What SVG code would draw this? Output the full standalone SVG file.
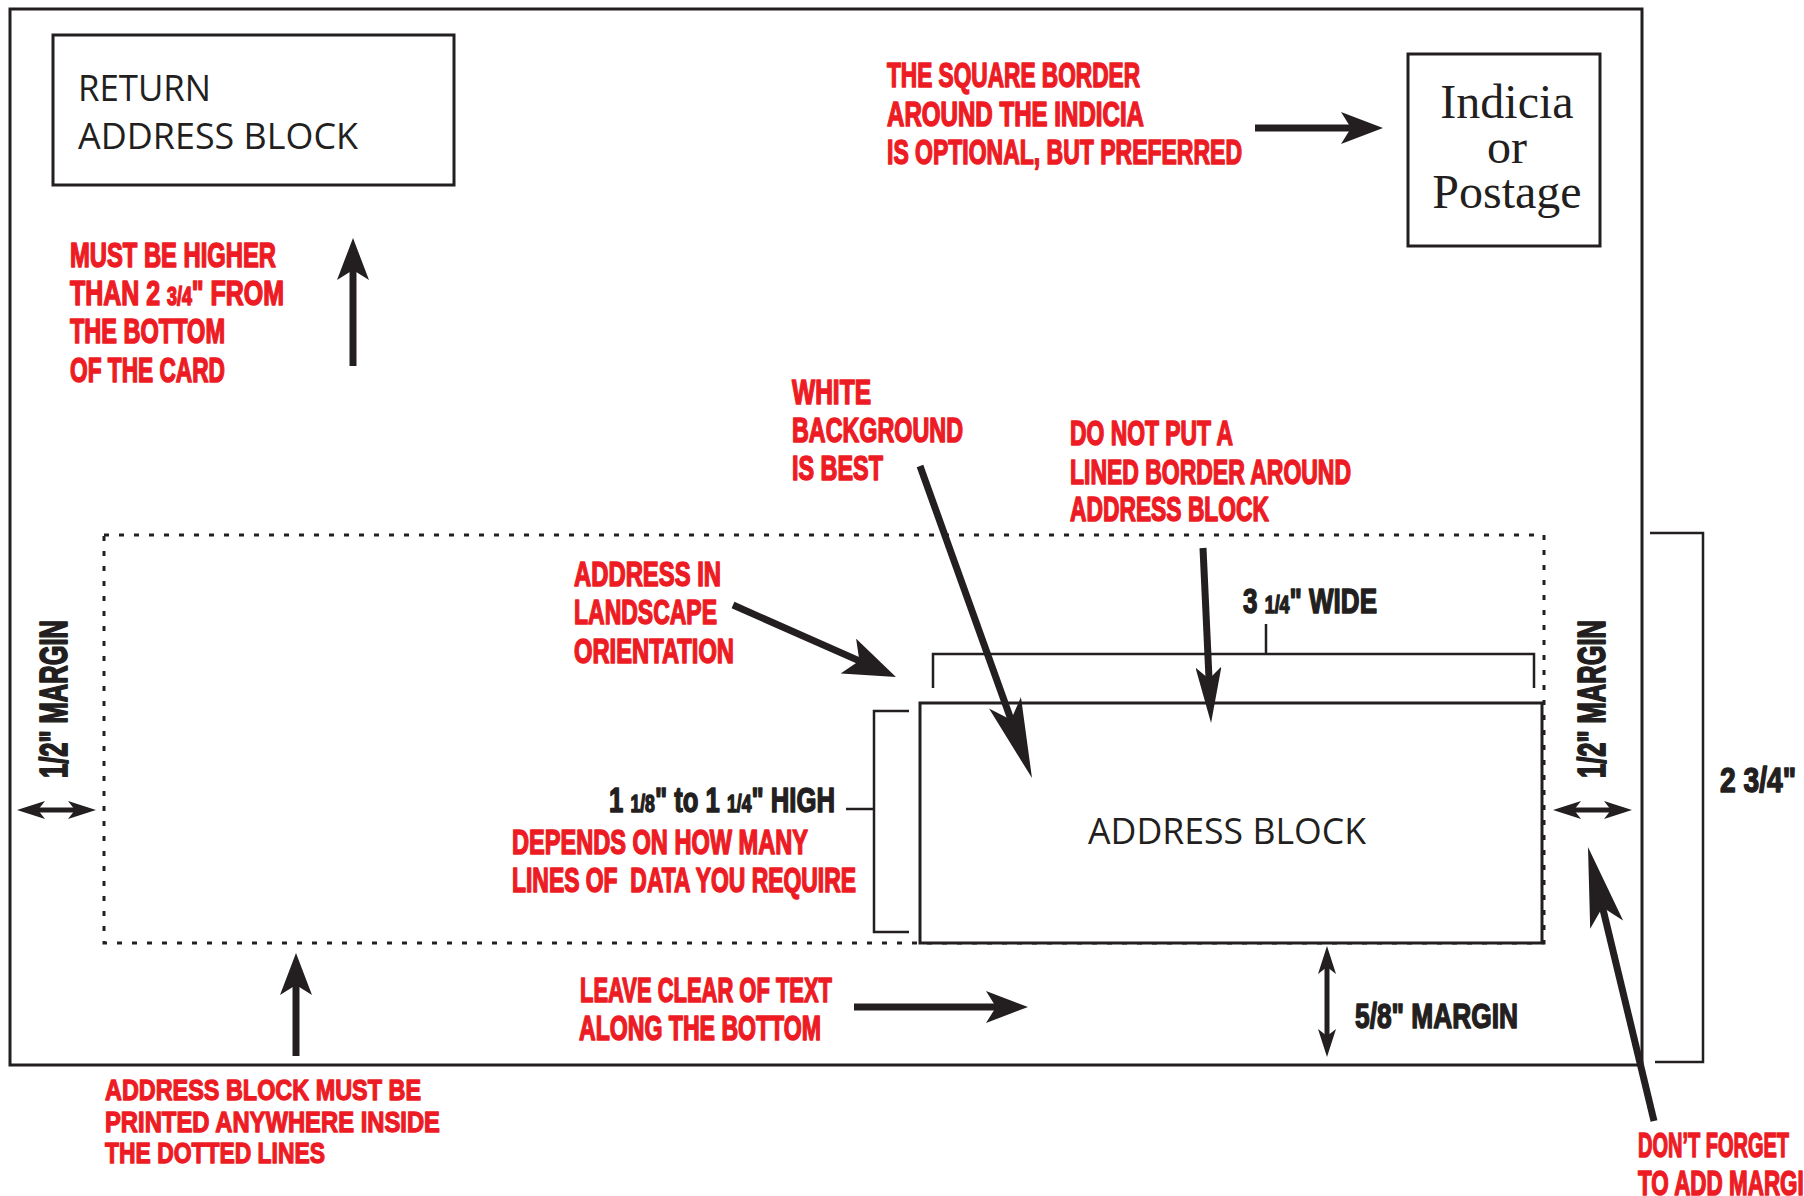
<svg xmlns="http://www.w3.org/2000/svg" width="1804" height="1196" viewBox="0 0 1804 1196">
<style>
.red{font-family:"Liberation Sans",Arial,sans-serif;font-weight:bold;fill:#ed1c24;stroke:#ed1c24;stroke-width:1.6;stroke-linejoin:round;font-size:35px}
.reds{font-size:29px;stroke-width:1.3}
.blk{font-family:"Liberation Sans",Arial,sans-serif;font-weight:bold;fill:#231f20;stroke:#231f20;stroke-width:1.5;stroke-linejoin:round;font-size:35px}
.rot{font-size:38px;stroke-width:1.8}
.plain{font-family:"Open Sans","Liberation Sans",sans-serif;fill:#231f20;font-size:37px}
.serif{font-family:"Liberation Serif","Times New Roman",serif;fill:#231f20;font-size:48px;text-anchor:middle}
.box{fill:#fff;stroke:#231f20;stroke-width:3}
.line{fill:none;stroke:#231f20;stroke-width:2.5}
.dot{fill:none;stroke:#231f20;stroke-width:3;stroke-dasharray:5 10}
.arr{fill:none;stroke:#231f20;stroke-width:7}
.arrs{fill:none;stroke:#231f20;stroke-width:5}
</style>
<defs>
<marker id="ah" viewBox="0 0 42 32" refX="16" refY="16" markerWidth="42" markerHeight="32" markerUnits="userSpaceOnUse" orient="auto"><path d="M0,0 L42,16 L0,32 L10,16 Z" fill="#231f20"/></marker>
<marker id="ahL" viewBox="0 0 80 34" refX="30" refY="17" markerWidth="80" markerHeight="34" markerUnits="userSpaceOnUse" orient="auto"><path d="M0,0 L80,17 L0,34 L18,17 Z" fill="#231f20"/></marker>
<marker id="ahM" viewBox="0 0 56 26" refX="20" refY="13" markerWidth="56" markerHeight="26" markerUnits="userSpaceOnUse" orient="auto"><path d="M0,0 L56,13 L0,26 L12,13 Z" fill="#231f20"/></marker>
<marker id="ahW" viewBox="0 0 52 38" refX="20" refY="19" markerWidth="52" markerHeight="38" markerUnits="userSpaceOnUse" orient="auto"><path d="M0,0 L52,19 L0,38 L12,19 Z" fill="#231f20"/></marker>
<marker id="ahS" viewBox="0 0 28 18" refX="10" refY="9" markerWidth="28" markerHeight="18" markerUnits="userSpaceOnUse" orient="auto-start-reverse"><path d="M0,0 L28,9 L0,18 L7,9 Z" fill="#231f20"/></marker>
</defs>
<rect width="1804" height="1196" fill="#fff"/>

<g id="card"><rect x="10" y="9" width="1632" height="1056" fill="none" stroke="#231f20" stroke-width="3"/></g>

<g id="return-address">
<rect class="box" x="53" y="35" width="401" height="150"/>
<text class="plain" x="78" y="101" textLength="133" lengthAdjust="spacingAndGlyphs">RETURN</text>
<text class="plain" x="78" y="149" textLength="280" lengthAdjust="spacingAndGlyphs">ADDRESS BLOCK</text>
</g>

<g id="indicia">
<rect class="box" x="1408" y="54" width="192" height="192"/>
<text class="serif" x="1507" y="118">Indicia</text>
<text class="serif" x="1507" y="163">or</text>
<text class="serif" x="1507" y="208">Postage</text>
</g>

<g id="note-square-border">
<text class="red" x="887" y="87" textLength="253" lengthAdjust="spacingAndGlyphs">THE SQUARE BORDER</text>
<text class="red" x="887" y="126" textLength="257" lengthAdjust="spacingAndGlyphs">AROUND THE INDICIA</text>
<text class="red" x="887" y="164" textLength="355" lengthAdjust="spacingAndGlyphs">IS OPTIONAL, BUT PREFERRED</text>
</g>

<g id="note-higher">
<text class="red" x="70" y="267" textLength="206" lengthAdjust="spacingAndGlyphs">MUST BE HIGHER</text>
<text class="red" x="70" y="305" textLength="214" lengthAdjust="spacingAndGlyphs">THAN 2 <tspan font-size="25">3/4</tspan>" FROM</text>
<text class="red" x="70" y="343" textLength="155" lengthAdjust="spacingAndGlyphs">THE BOTTOM</text>
<text class="red" x="70" y="382" textLength="155" lengthAdjust="spacingAndGlyphs">OF THE CARD</text>
</g>

<g id="note-white-bg">
<text class="red" x="792" y="404" textLength="79" lengthAdjust="spacingAndGlyphs">WHITE</text>
<text class="red" x="792" y="442" textLength="171" lengthAdjust="spacingAndGlyphs">BACKGROUND</text>
<text class="red" x="792" y="480" textLength="91" lengthAdjust="spacingAndGlyphs">IS BEST</text>
</g>

<g id="note-no-border">
<text class="red" x="1070" y="445" textLength="163" lengthAdjust="spacingAndGlyphs">DO NOT PUT A</text>
<text class="red" x="1070" y="484" textLength="281" lengthAdjust="spacingAndGlyphs">LINED BORDER AROUND</text>
<text class="red" x="1070" y="521" textLength="199" lengthAdjust="spacingAndGlyphs">ADDRESS BLOCK</text>
</g>

<g id="print-area"><rect class="dot" x="104" y="535" width="1440" height="408"/></g>

<g id="address-block">
<rect class="box" x="920" y="703" width="622" height="240"/>
<text class="plain" x="1088" y="844" textLength="278" lengthAdjust="spacingAndGlyphs">ADDRESS BLOCK</text>
</g>

<g id="width-dim">
<path class="line" d="M933,688 V654 H1534 V688 M1266,624 V654"/>
<text class="blk" x="1243" y="613" textLength="134" lengthAdjust="spacingAndGlyphs">3 <tspan font-size="24">1/4</tspan>" WIDE</text>
</g>

<g id="height-dim">
<path class="line" d="M909,711 H874 V932 H909 M846,809 H874"/>
<text class="blk" x="609" y="812" textLength="226" lengthAdjust="spacingAndGlyphs">1 <tspan font-size="24">1/8</tspan>" to 1 <tspan font-size="24">1/4</tspan>" HIGH</text>
</g>

<g id="note-depends">
<text class="red" x="512" y="854" textLength="296" lengthAdjust="spacingAndGlyphs">DEPENDS ON HOW MANY</text>
<text class="red" x="512" y="892" textLength="344" lengthAdjust="spacingAndGlyphs" xml:space="preserve">LINES OF  DATA YOU REQUIRE</text>
</g>

<g id="note-landscape">
<text class="red" x="574" y="586" textLength="147" lengthAdjust="spacingAndGlyphs">ADDRESS IN</text>
<text class="red" x="574" y="624" textLength="143" lengthAdjust="spacingAndGlyphs">LANDSCAPE</text>
<text class="red" x="574" y="663" textLength="160" lengthAdjust="spacingAndGlyphs">ORIENTATION</text>
</g>

<g id="left-margin">
<text class="blk rot" transform="translate(67,778) rotate(-90)" textLength="158" lengthAdjust="spacingAndGlyphs">1/2" MARGIN</text>
</g>

<g id="right-margin">
<text class="blk rot" transform="translate(1605,778) rotate(-90)" textLength="158" lengthAdjust="spacingAndGlyphs">1/2" MARGIN</text>
</g>

<g id="height-total">
<path class="line" d="M1650,533 H1703 V1062 H1655"/>
<text class="blk" x="1720" y="792" textLength="76" lengthAdjust="spacingAndGlyphs">2 3/4"</text>
</g>

<g id="note-leave-clear">
<text class="red" x="580" y="1002" textLength="252" lengthAdjust="spacingAndGlyphs">LEAVE CLEAR OF TEXT</text>
<text class="red" x="579" y="1040" textLength="242" lengthAdjust="spacingAndGlyphs">ALONG THE BOTTOM</text>
</g>

<g id="bottom-margin">
<text class="blk" x="1355" y="1028" textLength="163" lengthAdjust="spacingAndGlyphs">5/8" MARGIN</text>
</g>

<g id="note-dotted">
<text class="red reds" x="105" y="1100" textLength="316" lengthAdjust="spacingAndGlyphs">ADDRESS BLOCK MUST BE</text>
<text class="red reds" x="105" y="1132" textLength="335" lengthAdjust="spacingAndGlyphs">PRINTED ANYWHERE INSIDE</text>
<text class="red reds" x="105" y="1163" textLength="220" lengthAdjust="spacingAndGlyphs">THE DOTTED LINES</text>
</g>

<g id="note-dont-forget">
<text class="red" x="1638" y="1157" textLength="151" lengthAdjust="spacingAndGlyphs">DON’T FORGET</text>
<text class="red" x="1638" y="1195" textLength="182" lengthAdjust="spacingAndGlyphs">TO ADD MARGIN</text>
</g>

<g id="connectors">
<path class="arr" d="M1255,128 H1357" marker-end="url(#ah)"/>
<path class="arr" d="M353,366 V264" marker-end="url(#ah)"/>
<path class="arr" d="M920,466 L1015.1,731" marker-end="url(#ahL)"/>
<path class="arr" d="M1203,548 L1209.4,687" marker-end="url(#ahM)"/>
<path class="arr" d="M733,605 L866.7,664.1" marker-end="url(#ahW)"/>
<path class="arr" d="M854,1007 H1002" marker-end="url(#ah)"/>
<path class="arr" d="M296,1056 V979" marker-end="url(#ah)"/>
<path class="arr" d="M1654,1121 L1599.7,895.6" marker-end="url(#ahL)"/>
<path class="arrs" d="M35,810 H78" marker-start="url(#ahS)" marker-end="url(#ahS)"/>
<path class="arrs" d="M1571,810 H1614" marker-start="url(#ahS)" marker-end="url(#ahS)"/>
<path class="arrs" d="M1327,964 V1039" marker-start="url(#ahS)" marker-end="url(#ahS)"/>
</g>
</svg>
